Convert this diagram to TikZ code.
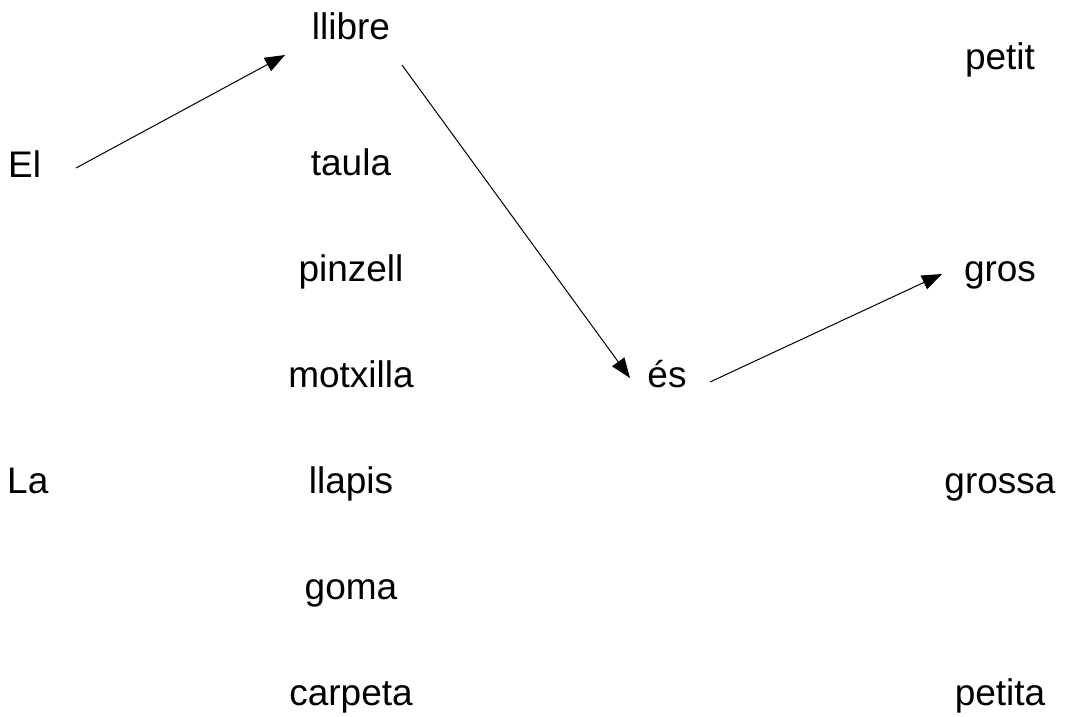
\documentclass[tikz,border=0pt]{standalone}
\usepackage{fontspec}
\setmainfont{Liberation Sans}
\usetikzlibrary{arrows.meta,calc}
\begin{document}
\begin{tikzpicture}[x=1pt,y=-1pt,
  word/.style={inner sep=0pt,font=\fontsize{37}{40}\selectfont,anchor=base},
  lword/.style={word,anchor=base west},
  conn/.style={line width=1pt,-{Triangle[length=20pt,width=15pt]}}]
\useasboundingbox (0,0) rectangle (1065,717);
% column 1
\node[lword] (El) at (8,177) {El};
\node[lword] (La) at (7,493) {La};
% column 2
\node[word] (llibre) at (351,40) {llibre};
\node[word] (taula) at (351,175) {taula};
\node[word] (pinzell) at (351,281) {pinzell};
\node[word] (motxilla) at (351,387) {motxilla};
\node[word] (llapis) at (351,493) {llapis};
\node[word] (goma) at (351,599) {goma};
\node[word] (carpeta) at (351,705) {carpeta};
% column 3
\node[word] (es) at (667,387) {és};
% column 4
\node[word] (petit) at (1000,70) {petit};
\node[word] (gros) at (1000,281) {gros};
\node[word] (grossa) at (1000,493) {grossa};
\node[word] (petita) at (1000,705) {petita};
% connectors
\draw[conn] ($(El.base west)+(68,-9)$) -- ($(llibre.base)+(-66,15)$);
\draw[conn] ($(llibre.base)+(51,25)$) -- ($(es.base)+(-37,-9)$);
\draw[conn] ($(es.base)+(43,-5)$) -- ($(gros.base)+(-58,-7)$);
\end{tikzpicture}
\end{document}
